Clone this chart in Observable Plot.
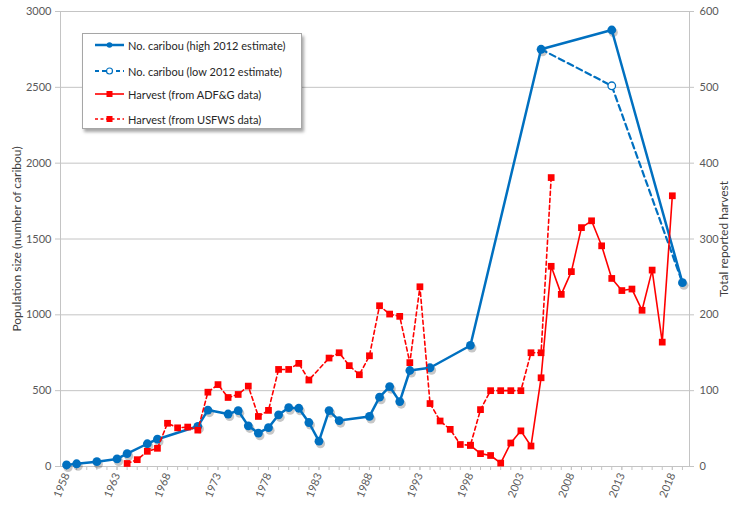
<!DOCTYPE html>
<html><head><meta charset="utf-8">
<script src="https://cdn.jsdelivr.net/npm/d3@7"></script>
<script src="https://cdn.jsdelivr.net/npm/@observablehq/plot@0.6"></script>
<style>
body{margin:0;background:#fff;}
#wrap{position:relative;width:733px;height:505px;font-family:Lato,"Open Sans",sans-serif;}
#legend{position:absolute;left:82px;top:33px;width:218px;height:94px;background:#fff;border:1px solid #a6a6a6;box-shadow:2px 3px 3px rgba(0,0,0,0.35);font-size:11px;color:#262626;}
.row{position:absolute;left:12px;height:16px;display:flex;align-items:center;white-space:nowrap;}
.row svg{margin-right:3px;}
</style></head>
<body><div id="wrap"><div id="legend"></div></div>
<script>
// Caribou population (left axis)
const caribouYears = [1958,1959,1961,1963,1964,1966,1967,1971,1972,1974,1975,1976,1977,1978,1979,1980,1981,1982,1983,1984,1985,1988,1989,1990,1991,1992,1994,1998,2005,2012,2019];
const caribouHigh  = [10,18,32,50,85,150,180,265,372,346,368,268,220,256,341,388,384,290,167,369,303,330,457,527,428,633,651,798,2751,2878,1212];
const lowYears   = [2005,2012,2019];
const caribouLow = [2751,2510,1212];
// Harvest (right axis)
const adfgYears   = [1998,1999,2000,2001,2002,2003,2004,2005,2006,2007,2008,2009,2010,2011,2012,2013,2014,2015,2016,2017,2018];
const adfgHarvest = [28,17,14.5,4.5,31,47,27,117,264,227,257,315,324,291,248,232,234,206,259,164,357];
const usfwsYears   = [1964,1965,1966,1967,1968,1969,1970,1971,1972,1973,1974,1975,1976,1977,1978,1979,1980,1981,1982,1984,1985,1986,1987,1988,1989,1990,1991,1992,1993,1994,1995,1996,1997,1998,1999,2000,2001,2002,2003,2004,2005,2006];
const usfwsHarvest = [4,9,20,24,57,51,52,48,98,108,91,95,106,66,74,128,128,136,114,143,150,133,121,146,212,201,198,137,237,83,60,49,29,28,75,100,100,100,100,150,150,381];
// Axis ticks
const xLabelYears = [1958,1963,1968,1973,1978,1983,1988,1993,1998,2003,2008,2013,2018];
const xMinorYears = d3.range(1958, 2020);
const leftTicks  = [0,500,1000,1500,2000,2500,3000];
const rightTicks = [0,100,200,300,400,500,600];

const K = 3000 / 600;
const high  = caribouYears.map((year,i)=>({year, value:caribouHigh[i]}));
const low   = lowYears.map((year,i)=>({year, value:caribouLow[i]}));
const adfg  = adfgYears.map((year,i)=>({year, value:adfgHarvest[i]*K}));
const usfws = usfwsYears.map((year,i)=>({year, value:usfwsHarvest[i]*K}));

const BLUE = "#0070C0", RED = "#FF0000", GRID = "#c4c4c4", TXT = "#595959";

const chart = Plot.plot({
  width:733, height:505,
  marginLeft:60, marginRight:44, marginTop:11, marginBottom:39,
  style:{fontFamily:"Lato, 'Open Sans', sans-serif", fontSize:"11px", color:TXT, background:"#fff", overflow:"visible"},
  x:{domain:[1957.4, 2019.7]},
  y:{domain:[0,3000]},
  marks:[
    Plot.gridY(leftTicks, {stroke:GRID, strokeOpacity:1}),
    Plot.frame({stroke:GRID}),
    Plot.axisY(leftTicks, {anchor:"left", tickSize:5, tickPadding:4, color:TXT, stroke:GRID, tickFormat:d=>String(d),
      label:"Population size (number of caribou)", labelAnchor:"center", labelOffset:48, labelArrow:"none"}),
    Plot.axisY(rightTicks.map(d=>d*K), {anchor:"right", tickSize:4, tickPadding:6, color:TXT, stroke:GRID, tickFormat:d=>String(d/K),
      label:"Total reported harvest", labelAnchor:"center", labelOffset:38, labelArrow:"none"}),
    Plot.axisX(xMinorYears, {tickSize:4, tickFormat:()=>"", stroke:GRID, label:null}),
    Plot.axisX(xLabelYears, {tickSize:4, tickPadding:3, tickRotate:-68, color:TXT, stroke:GRID, tickFormat:d=>String(d), label:null}),
    // soft shadow for blue series
    Plot.line(high, {x:"year", y:"value", stroke:"#000", strokeOpacity:0.22, strokeWidth:3.5, dx:1.5, dy:2.5, ariaLabel:"shadow"}),
    Plot.dot(high, {x:"year", y:"value", fill:"#000", fillOpacity:0.22, r:4.6, dx:1.5, dy:2.5, ariaLabel:"shadow"}),
    Plot.line(low, {x:"year", y:"value", stroke:BLUE, strokeWidth:2.2, strokeDasharray:"6,4"}),
    Plot.line(high, {x:"year", y:"value", stroke:BLUE, strokeWidth:2.5}),
    Plot.dot(high, {x:"year", y:"value", fill:BLUE, r:4.4}),
    Plot.dot(low.filter(d=>d.year===2012), {x:"year", y:"value", fill:"white", stroke:BLUE, strokeWidth:1.3, r:3.8}),
    Plot.line(adfg, {x:"year", y:"value", stroke:RED, strokeWidth:1.6}),
    Plot.dot(adfg, {x:"year", y:"value", symbol:"square", fill:RED, r:3.8}),
    Plot.line(usfws, {x:"year", y:"value", stroke:RED, strokeWidth:1.6, strokeDasharray:"4,3"}),
    Plot.dot(usfws, {x:"year", y:"value", symbol:"square", fill:RED, r:3.8})
  ]
});
const defs = d3.select(chart).insert("defs", ":first-child");
defs.append("filter").attr("id","blurShadow").attr("x","-10%").attr("y","-10%").attr("width","120%").attr("height","120%")
  .append("feGaussianBlur").attr("stdDeviation",1.6);
d3.select(chart).selectAll('g[aria-label="shadow"]').attr("filter","url(#blurShadow)");
d3.select(chart).selectAll('g[aria-label="y-axis label"]').style("font-size","12px").attr("fill","#404040");
document.getElementById("wrap").insertBefore(chart, document.getElementById("legend"));
chart.style.position = "absolute"; chart.style.left = "0"; chart.style.top = "0";

// Legend
const legendItems = [
  {label:"No. caribou (high 2012 estimate)", color:BLUE, dash:null, marker:"dot", w:2.5},
  {label:"No. caribou (low 2012 estimate)", color:BLUE, dash:"4,3", marker:"open", w:2},
  {label:"Harvest (from ADF&G data)", color:RED, dash:null, marker:"square", w:1.6},
  {label:"Harvest (from USFWS data)", color:RED, dash:"3,2.5", marker:"square", w:1.6}
];
const rowTops = [3, 29, 52, 77];
const legend = d3.select("#legend");
legendItems.forEach((it,i)=>{
  const row = legend.append("div").attr("class","row").style("top", rowTops[i]+"px");
  const s = row.append("svg").attr("width",30).attr("height",12);
  s.append("line").attr("x1",0).attr("x2",29).attr("y1",6).attr("y2",6).attr("stroke",it.color).attr("stroke-width",it.w).attr("stroke-dasharray",it.dash);
  if (it.marker==="dot") s.append("circle").attr("cx",14.5).attr("cy",6).attr("r",2.8).attr("fill",it.color);
  if (it.marker==="open") s.append("circle").attr("cx",14.5).attr("cy",6).attr("r",3).attr("fill","white").attr("stroke",it.color).attr("stroke-width",1.2);
  if (it.marker==="square") s.append("rect").attr("x",11.5).attr("y",3).attr("width",6).attr("height",6).attr("fill",it.color);
  row.append("span").text(it.label);
});
</script>
</body></html>
